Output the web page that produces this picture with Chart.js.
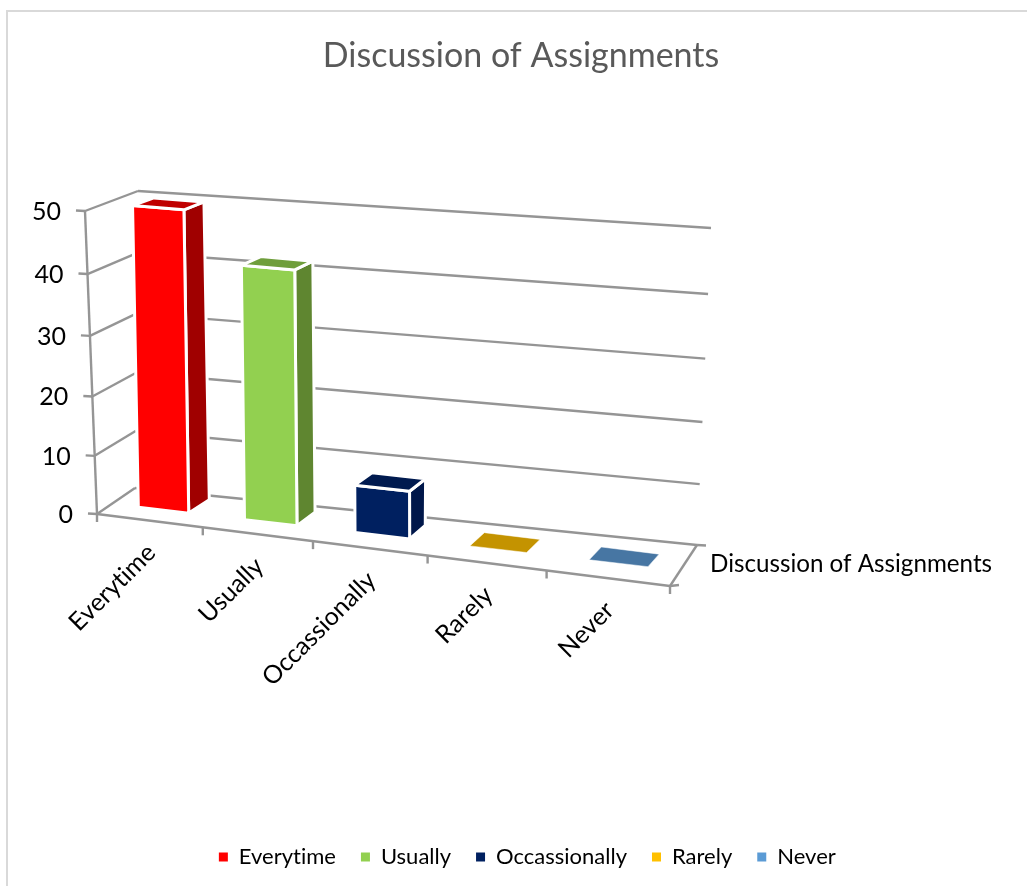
<!DOCTYPE html>
<html><head><meta charset="utf-8">
<style>
html,body{margin:0;padding:0;background:#fff;overflow:hidden}
#frame{position:absolute;left:6px;top:10px;width:1021px;height:876px;border-top:2px solid #d9d9d9;border-left:2px solid #d9d9d9;box-sizing:border-box}
canvas{position:absolute;left:0;top:0}
</style>
<script src="https://cdn.jsdelivr.net/npm/chart.js@4"></script>
</head><body>
<div id="frame"></div>
<canvas id="c" width="1027" height="886"></canvas>
<script>
const categories = ["Everytime","Usually","Occassionally","Rarely","Never"];
const values = [50,42,8,0,0];
const seriesName = "Discussion of Assignments";
const titleText = "Discussion of Assignments";
const legendColors = ["#FF0000","#92D050","#002060","#FFC000","#5B9BD5"];
const sideColors = ["#A00000","#5F8630","#00174A","#A37D00","#3A6A98"];
const topColors = ["#C00000","#6F9E3C","#001A4F","#C49300","#4776A3"];
const tickValues = [0,10,20,30,40,50];

// 3D box of the plot, as seen on the page
const box = {
  fbl:[97,514], fbr:[670,586], bbl:[135,488], bbr:[697,545],
  ftl:[85,211], ftr:[669,264], btl:[138,191], btr:[711,228]
};
const depthFront = 0.38;
const depthBack = (u,v) => 0.88 - 0.2*warpU(u) - 0.12*v;
const depthBiasX = v => 0.09*(1-0.6*v*v);
const warpU = u => u*(0.904+0.096*u);
const warpV = v => v*(0.95+0.05*v);
const lerp = (a,b,t)=>[a[0]+(b[0]-a[0])*t, a[1]+(b[1]-a[1])*t];
function project(u,v,w){
  const U=warpU(u), V=warpV(v);
  const fb=lerp(box.fbl,box.fbr,U), ft=lerp(box.ftl,box.ftr,U);
  const bb=lerp(box.bbl,box.bbr,U), bt=lerp(box.btl,box.btr,U);
  return lerp(lerp(fb,ft,V), lerp(bb,bt,V), w);
}
function projectBack(u,v){
  const w=depthBack(u,v);
  return [project(u,v,w+depthBiasX(v))[0], project(u,v,w)[1]];
}
const gridColor="#959595", fontFamily="Lato, Carlito, sans-serif";
function seg(ctx,a,b){ctx.beginPath();ctx.moveTo(a[0],a[1]);ctx.lineTo(b[0],b[1]);ctx.stroke();}
function poly(ctx,pts,fill){
  ctx.beginPath();pts.forEach((p,i)=>i?ctx.lineTo(p[0],p[1]):ctx.moveTo(p[0],p[1]));ctx.closePath();
  ctx.fillStyle=fill;ctx.fill();ctx.stroke();
}
const normU=(ch,x)=>(x-ch.chartArea.left)/ch.chartArea.width;
const normV=(ch,y)=>(ch.chartArea.bottom-y)/ch.chartArea.height;

const LEGEND_SHIFT = -8;
const LEGEND_PAD = 25;

const perspective = {
  id:"perspective",
  afterLayout(ch){
    ch.titleBlock.left-=6.5; ch.titleBlock.right-=6.5;
    ch.legend.top+=LEGEND_SHIFT; ch.legend.bottom+=LEGEND_SHIFT;
  },
  beforeDraw(ch){
    ch.ctx.textRendering="optimizeSpeed";
    const xs=ch.scales.x, ys=ch.scales.y;
    ys.getLabelItems().forEach(it=>{
      const v=normV(ch,ys.getPixelForValue(Number(it.label)));
      const p=project(0,v,0);
      it.options.translation=[p[0]-24,p[1]+1];
    });
    xs.getLabelItems().forEach((it,i)=>{
      const p=project(normU(ch,xs.getPixelForValue(i)),0,0);
      it.options.translation=[p[0]+2,p[1]+28];
      it.options.textAlign="right"; it.options.textBaseline="middle"; it.textOffset=0;
    });
  },
  beforeDatasetsDraw(ch){
    const c=ch.ctx, xs=ch.scales.x, ys=ch.scales.y;
    c.save(); c.strokeStyle=gridColor; c.lineWidth=2.4; c.lineCap="butt";
    tickValues.forEach(t=>{
      const v=normV(ch,ys.getPixelForValue(t));
      const a=project(0,v,0), b=project(0,v,1), d=project(1,v,1);
      seg(c,[a[0]-9,a[1]-0.5],a); seg(c,a,b); seg(c,b,d);
    });
    seg(c,box.ftl,box.fbl);
    seg(c,box.fbl,box.fbr); seg(c,box.fbr,box.bbr);
    seg(c,box.bbr,[box.bbr[0]+9,box.bbr[1]+0.5]);
    seg(c,box.fbr,[box.fbr[0]+9,box.fbr[1]-1]);
    const step=xs.getPixelForValue(1)-xs.getPixelForValue(0);
    categories.concat("").forEach((_,i)=>{
      const a=project(normU(ch,xs.getPixelForValue(0)+step*(i-0.5)),0,0);
      seg(c,a,[a[0],a[1]+8]);
    });
    c.fillStyle="#000"; c.font="24.2px "+fontFamily; c.textBaseline="middle"; c.textAlign="left";
    c.fillText(seriesName,710,564);
    c.restore();
  },
  beforeDatasetDraw(ch,args){
    const c=ch.ctx, meta=ch.getDatasetMeta(args.index);
    c.save(); c.strokeStyle="#fff"; c.lineWidth=3; c.lineJoin="round";
    meta.data.forEach((el,i)=>{
      const u0=normU(ch,el.x-el.width/2), u1=normU(ch,el.x+el.width/2);
      const v=normV(ch,el.y), w0=depthFront;
      const fbl=project(u0,0,w0), fbr=project(u1,0,w0), bbr=projectBack(u1,0);
      const ftl=project(u0,v,w0), ftr=project(u1,v,w0);
      const btl=projectBack(u0,v), btr=projectBack(u1,v);
      if(values[i]>0){
        poly(c,[ftr,fbr,bbr,btr],sideColors[i]);
        poly(c,[ftl,ftr,fbr,fbl],legendColors[i]);
      }
      c.save(); if(values[i]===0){c.lineWidth=0.5;}
      poly(c,[ftl,ftr,btr,btl],topColors[i]);
      c.restore();
    });
    c.restore();
    return false;
  }
};

new Chart(document.getElementById("c"),{
  type:"bar",
  plugins:[perspective],
  data:{labels:categories,datasets:[{label:seriesName,data:values,backgroundColor:legendColors,barPercentage:0.48,categoryPercentage:1}]},
  options:{
    responsive:false,animation:false,
    layout:{autoPadding:false,padding:{left:28,right:0,top:0,bottom:0}},
    plugins:{
      tooltip:{enabled:false},
      title:{display:true,text:titleText,color:"#595959",font:{family:fontFamily,size:34,weight:"normal"},padding:{top:36,bottom:134}},
      legend:{position:"bottom",labels:{boxWidth:9,boxHeight:9,padding:LEGEND_PAD,color:"#595959",font:{family:fontFamily,size:22},
        generateLabels:()=>categories.map((t,i)=>({text:t,fillStyle:legendColors[i],strokeStyle:legendColors[i],lineWidth:0,index:i,hidden:false}))}}
    },
    scales:{
      x:{grid:{display:false},border:{display:false},
        ticks:{autoSkip:false,minRotation:45,maxRotation:45,color:"#000",font:{family:fontFamily,size:25}},
        afterFit(s){s.height=886-514-s.chart.legend.height;}},
      y:{min:0,max:50,grid:{display:false},border:{display:false},
        ticks:{stepSize:10,color:"#000",font:{family:fontFamily,size:25}},
        afterFit(s){s.width=69;}}
    }
  }
});
</script>
</body></html>
